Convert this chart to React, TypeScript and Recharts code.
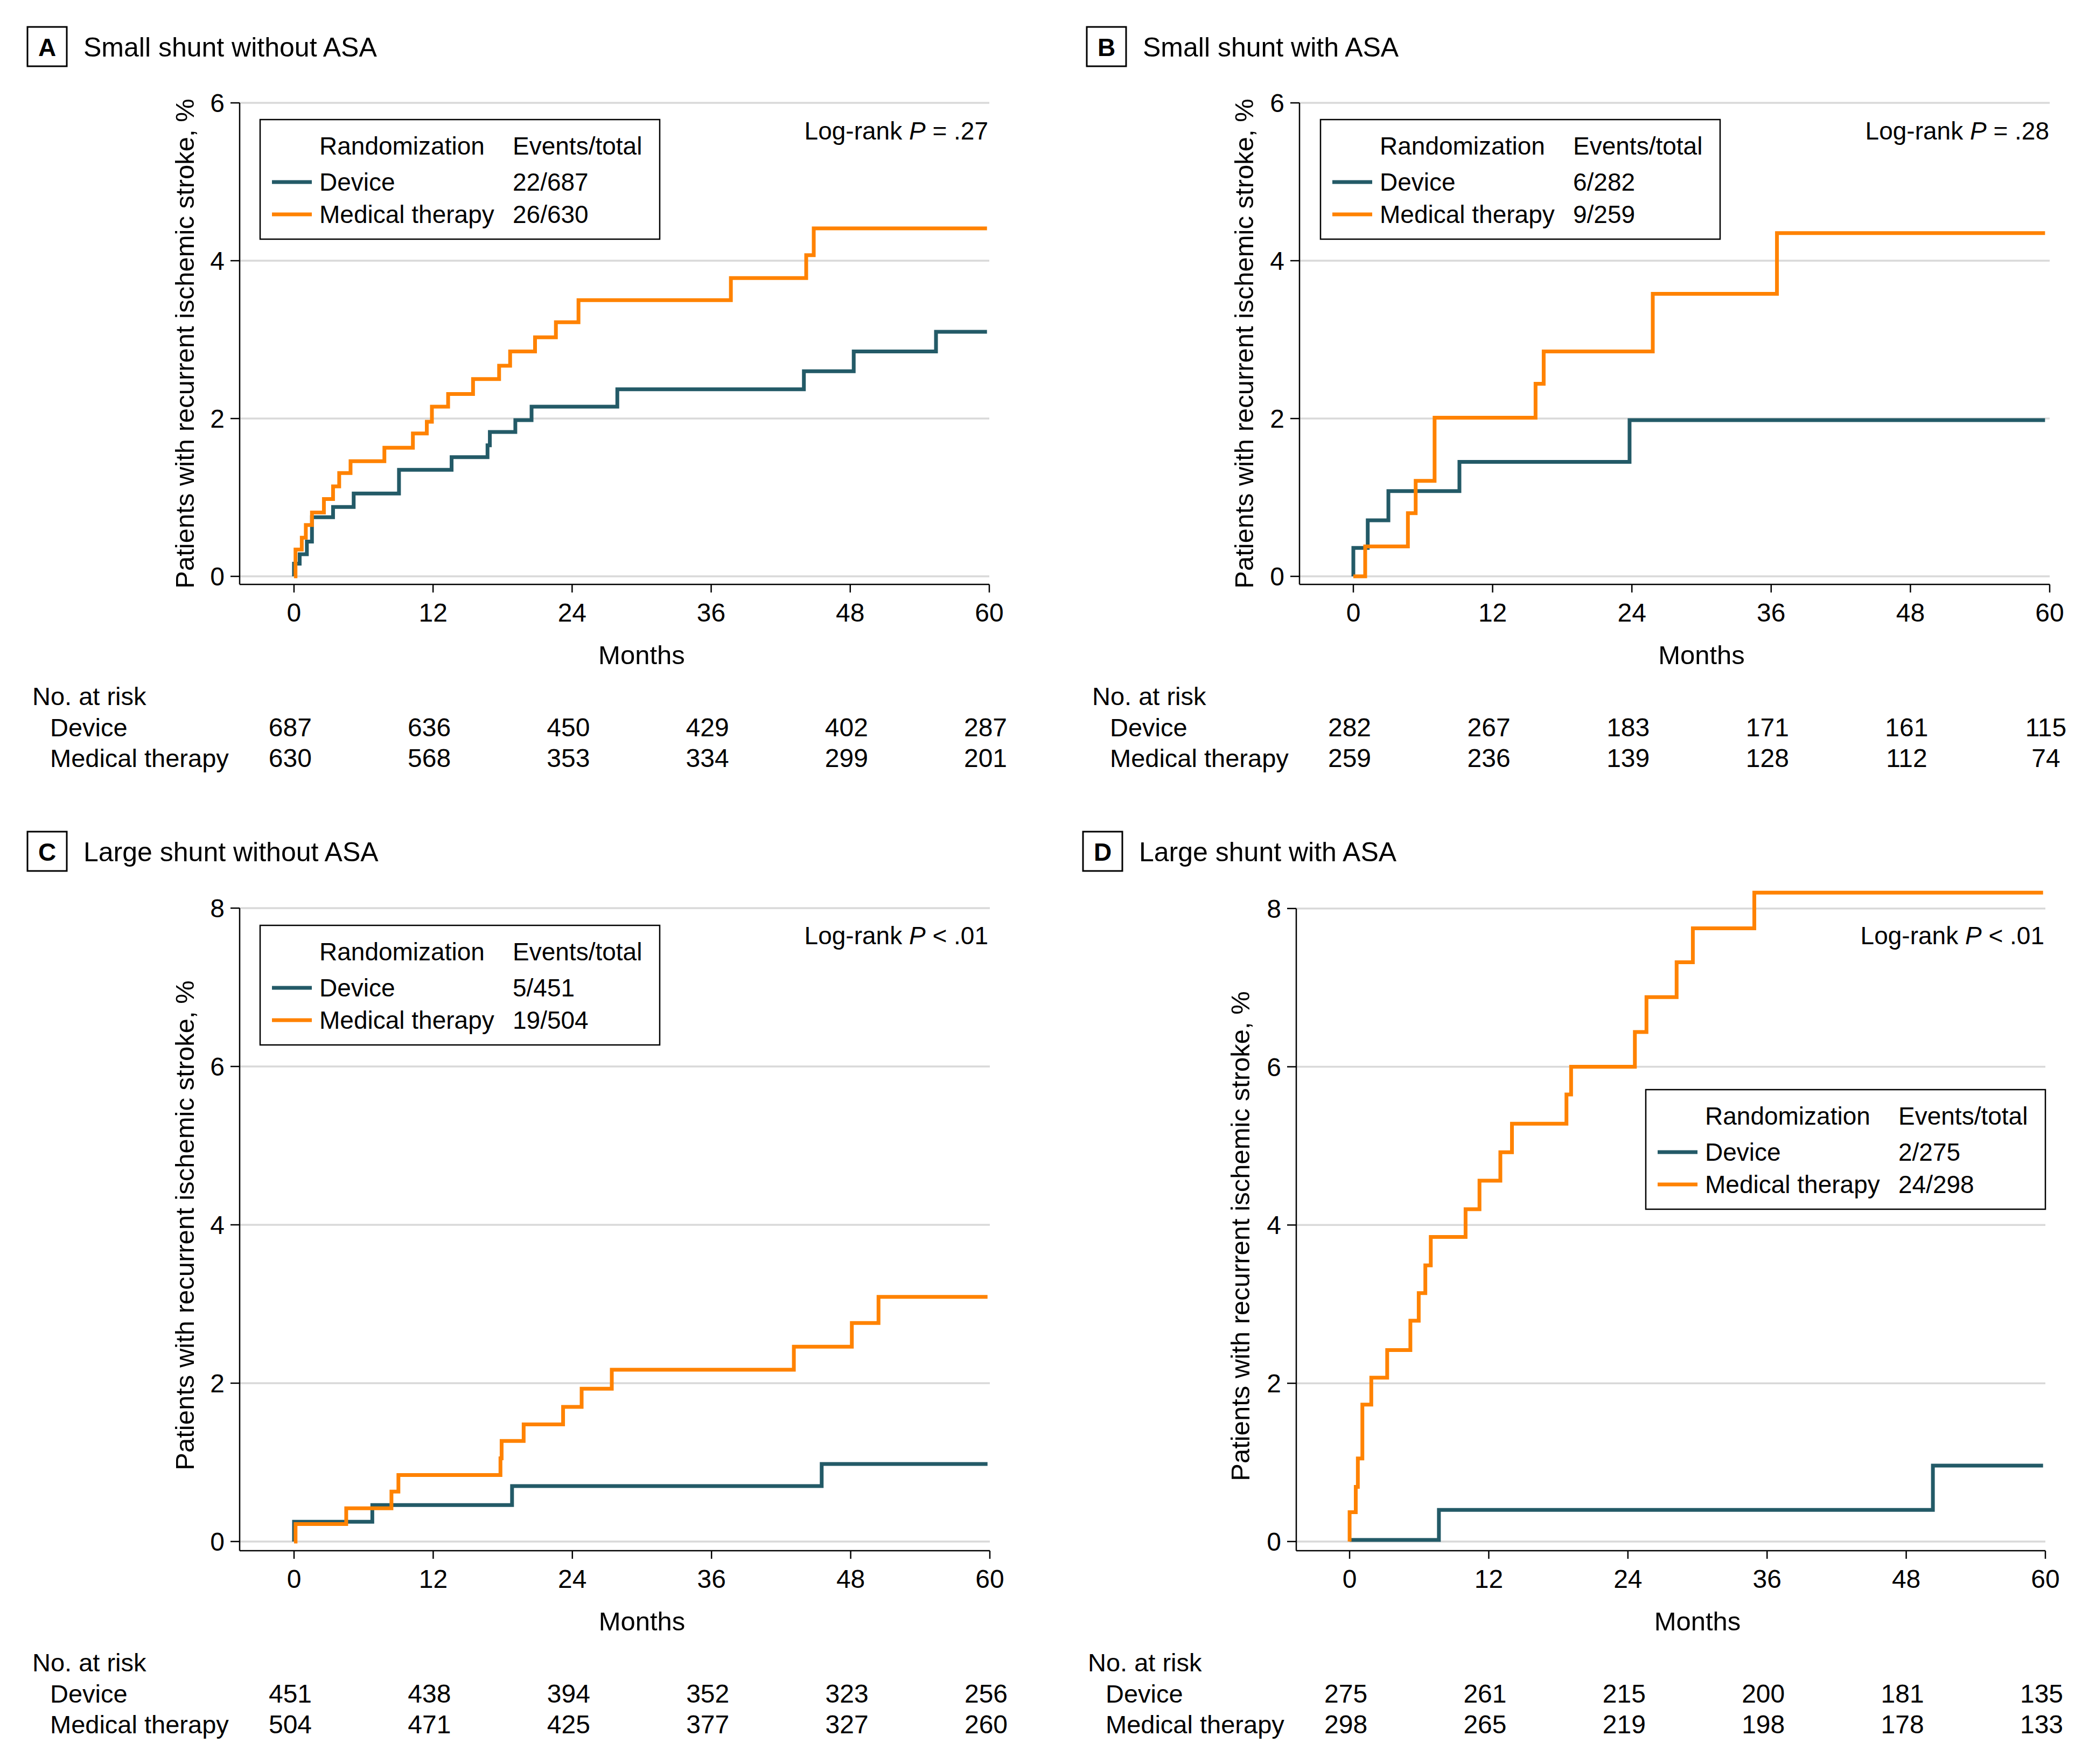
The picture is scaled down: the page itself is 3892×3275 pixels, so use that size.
import React from 'react';
import { LineChart, Line, XAxis, YAxis, CartesianGrid, ReferenceLine } from 'recharts';

const FONT = '"Liberation Sans", Arial, sans-serif';
const DEVICE_COLOR = '#235A67';
const MED_COLOR = '#FF8200';

const monthTicks = [0, 12, 24, 36, 48, 60];
const riskLabels = ['Device', 'Medical therapy'];

// A: small shunt without ASA
const aDeviceT = [0, 0, 0.49, 1.11, 1.55, 3.37, 5.15, 9.06, 13.6, 16.7, 16.9, 19.1, 20.5, 27.9, 44.0, 48.3, 55.4, 59.8];
const aDeviceV = [0, 0.16, 0.28, 0.44, 0.75, 0.88, 1.05, 1.35, 1.51, 1.66, 1.83, 1.98, 2.15, 2.37, 2.6, 2.85, 3.1, 3.1];
const aMedT = [0, 0.13, 0.67, 1.02, 1.55, 2.58, 3.37, 3.9, 4.88, 7.8, 10.26, 11.46, 11.9, 13.3, 15.45, 17.7, 18.65, 20.8, 22.6, 24.55, 37.7, 44.2, 44.85, 59.8];
const aMedV = [0, 0.34, 0.49, 0.65, 0.81, 0.98, 1.14, 1.31, 1.46, 1.63, 1.81, 1.96, 2.15, 2.31, 2.5, 2.67, 2.85, 3.03, 3.22, 3.5, 3.78, 4.07, 4.41, 4.41];
const aRiskDevice = [687, 636, 450, 429, 402, 287];
const aRiskMed = [630, 568, 353, 334, 299, 201];

// B: small shunt with ASA
const bDeviceT = [0, 0, 1.24, 3.02, 9.14, 23.8, 59.6];
const bDeviceV = [0, 0.36, 0.71, 1.08, 1.45, 1.98, 1.98];
const bMedT = [0, 1.02, 4.7, 5.37, 7.0, 15.7, 16.4, 25.8, 36.5, 59.6];
const bMedV = [0, 0.38, 0.8, 1.21, 2.01, 2.44, 2.85, 3.58, 4.35, 4.35];
const bRiskDevice = [282, 267, 183, 171, 161, 115];
const bRiskMed = [259, 236, 139, 128, 112, 74];

// C: large shunt without ASA
const cDeviceT = [0, 0, 6.75, 18.8, 45.5, 59.8];
const cDeviceV = [0, 0.25, 0.46, 0.7, 0.98, 0.98];
const cMedT = [0, 0.13, 4.5, 8.4, 9.0, 17.8, 17.9, 19.8, 23.2, 24.8, 27.4, 43.1, 48.1, 50.4, 59.8];
const cMedV = [0, 0.22, 0.42, 0.63, 0.84, 1.05, 1.27, 1.48, 1.7, 1.93, 2.17, 2.46, 2.76, 3.09, 3.09];
const cRiskDevice = [451, 438, 394, 352, 323, 256];
const cRiskMed = [504, 471, 425, 377, 327, 260];

// D: large shunt with ASA
const dDeviceT = [0, 7.7, 50.3, 59.8];
const dDeviceV = [0.02, 0.4, 0.96, 0.96];
const dMedT = [0, 0, 0.53, 0.71, 1.1, 1.87, 3.24, 5.24, 5.96, 6.53, 7.0, 10.0, 11.2, 13.0, 14.0, 18.7, 19.1, 24.6, 25.6, 28.2, 29.6, 34.9, 59.8];
const dMedV = [0, 0.37, 0.69, 1.05, 1.73, 2.07, 2.42, 2.79, 3.14, 3.49, 3.85, 4.2, 4.56, 4.92, 5.28, 5.65, 6.0, 6.44, 6.88, 7.32, 7.75, 8.2, 8.2];
const dRiskDevice = [275, 261, 215, 200, 181, 135];
const dRiskMed = [298, 265, 219, 198, 178, 133];

type Row = { t: number; v: number };
const rows = (t: number[], v: number[]): Row[] => t.map((x, i) => ({ t: x, v: v[i] }));

type Panel = {
  letter: string;
  title: string;
  L: number; R: number; T: number; B: number;
  xMin: number; yMin: number; yMax: number; yTicks: number[]; axisTop?: number;
  device: Row[]; medical: Row[];
  riskDevice: number[]; riskMed: number[];
  events: [string, string];
  pSign: string; pVal: string;
  box: [number, number];
  titleX: number; titleY: number;
  yLabel: [number, number];
  legend: [number, number];
  logRank: [number, number];
  riskX: number;
};

const panels: Panel[] = [
  {
    letter: 'A', title: 'Small shunt without ASA',
    L: 445, R: 1837, T: 191, B: 1085, xMin: -4.69, yMin: -0.102, yMax: 6, yTicks: [0, 2, 4, 6],
    device: rows(aDeviceT, aDeviceV), medical: rows(aMedT, aMedV),
    riskDevice: aRiskDevice, riskMed: aRiskMed, events: ['22/687', '26/630'],
    pSign: '=', pVal: '.27',
    box: [51, 50], titleX: 155, titleY: 105, yLabel: [343, 638],
    legend: [483, 222], logRank: [1835, 243], riskX: 60,
  },
  {
    letter: 'B', title: 'Small shunt with ASA',
    L: 2413, R: 3806, T: 191, B: 1085, xMin: -4.64, yMin: -0.102, yMax: 6, yTicks: [0, 2, 4, 6],
    device: rows(bDeviceT, bDeviceV), medical: rows(bMedT, bMedV),
    riskDevice: bRiskDevice, riskMed: bRiskMed, events: ['6/282', '9/259'],
    pSign: '=', pVal: '.28',
    box: [2018, 50], titleX: 2122, titleY: 105, yLabel: [2310, 638],
    legend: [2452, 222], logRank: [3805, 243], riskX: 2028,
  },
  {
    letter: 'C', title: 'Large shunt without ASA',
    L: 445, R: 1838, T: 1686, B: 2879, xMin: -4.69, yMin: -0.116, yMax: 8, yTicks: [0, 2, 4, 6, 8],
    device: rows(cDeviceT, cDeviceV), medical: rows(cMedT, cMedV),
    riskDevice: cRiskDevice, riskMed: cRiskMed, events: ['5/451', '19/504'],
    pSign: '<', pVal: '.01',
    box: [51, 1544], titleX: 155, titleY: 1599, yLabel: [343, 2275],
    legend: [483, 1718], logRank: [1835, 1737], riskX: 60,
  },
  {
    letter: 'D', title: 'Large shunt with ASA',
    L: 2407, R: 3798, T: 1650, B: 2879, xMin: -4.6, yMin: -0.116, yMax: 8.25, yTicks: [0, 2, 4, 6, 8], axisTop: 8,
    device: rows(dDeviceT, dDeviceV), medical: rows(dMedT, dMedV),
    riskDevice: dRiskDevice, riskMed: dRiskMed, events: ['2/275', '24/298'],
    pSign: '<', pVal: '.01',
    box: [2011, 1544], titleX: 2115, titleY: 1599, yLabel: [2303, 2295],
    legend: [3056, 2023], logRank: [3796, 1737], riskX: 2020,
  },
];

const PAD_L = 120;
const PAD_T = 40;
const PAD_R = 40;
const X_AXIS_H = 370;

const makeTick = (p: Panel) => (props: any) => {
  const { x, y, payload, index } = props;
  return (
    <g fontFamily={FONT} fill="#000">
      <text x={x} y={y + 37} textAnchor="middle" dominantBaseline="central" fontSize={48}>
        {payload.value}
      </text>
      <text x={x - 7} y={y + 250} textAnchor="middle" dominantBaseline="central" fontSize={48}>
        {p.riskDevice[index]}
      </text>
      <text x={x - 7} y={y + 307} textAnchor="middle" dominantBaseline="central" fontSize={48}>
        {p.riskMed[index]}
      </text>
    </g>
  );
};

const PanelChart = ({ p }: { p: Panel }) => {
  const width = p.R - p.L + PAD_L + PAD_R;
  const height = p.B - p.T + PAD_T + X_AXIS_H;
  return (
    <div style={{ position: 'absolute', left: p.L - PAD_L, top: p.T - PAD_T }}>
      <LineChart width={width} height={height} margin={{ top: PAD_T, right: PAD_R, left: 0, bottom: 0 }}>
        <CartesianGrid
          vertical={false}
          horizontalValues={p.yTicks}
          stroke="#d9d9d9"
          strokeWidth={3.5}
        />
        <XAxis
          type="number"
          dataKey="t"
          domain={[p.xMin, 60]}
          ticks={monthTicks}
          interval={0}
          height={X_AXIS_H}
          tickSize={15}
          tickMargin={0}
          axisLine={{ stroke: '#000', strokeWidth: 2.5 }}
          tickLine={{ stroke: '#000', strokeWidth: 2.5 }}
          tick={makeTick(p)}
        />
        <YAxis
          type="number"
          domain={[p.yMin, p.yMax]}
          ticks={p.yTicks}
          interval={0}
          width={PAD_L}
          tickSize={17}
          tickMargin={11}
          axisLine={p.axisTop ? false : { stroke: '#000', strokeWidth: 2.5 }}
          tickLine={{ stroke: '#000', strokeWidth: 2.5 }}
          tick={{ fontSize: 48, fill: '#000', fontFamily: FONT }}
        />
        {p.axisTop ? (
          <ReferenceLine
            segment={[{ x: p.xMin, y: p.yMin }, { x: p.xMin, y: p.axisTop }]}
            stroke="#000"
            strokeWidth={2.5}
            ifOverflow="visible"
          />
        ) : null}
        <Line
          data={p.device}
          dataKey="v"
          type="stepAfter"
          stroke={DEVICE_COLOR}
          strokeWidth={7}
          dot={false}
          isAnimationActive={false}
        />
        <Line
          data={p.medical}
          dataKey="v"
          type="stepAfter"
          stroke={MED_COLOR}
          strokeWidth={7}
          dot={false}
          isAnimationActive={false}
        />
      </LineChart>
    </div>
  );
};

const PanelText = ({ p }: { p: Panel }) => {
  const [bx, by] = p.box;
  const [lx, ly] = p.legend;
  const [yx, yy] = p.yLabel;
  const monthsX = p.L + ((30 - p.xMin) / (60 - p.xMin)) * (p.R - p.L);
  return (
    <g fontFamily={FONT} fill="#000">
      <rect x={bx} y={by} width={73} height={73} fill="none" stroke="#000" strokeWidth={3} />
      <text x={bx + 36.5} y={by + 38} textAnchor="middle" dominantBaseline="central" fontSize={46} fontWeight="bold">
        {p.letter}
      </text>
      <text x={p.titleX} y={p.titleY} fontSize={50}>{p.title}</text>
      <text
        x={yx}
        y={yy}
        transform={`rotate(-90 ${yx} ${yy})`}
        textAnchor="middle"
        dominantBaseline="central"
        fontSize={49}
      >
        Patients with recurrent ischemic stroke, %
      </text>
      <rect x={lx} y={ly} width={742} height={222} fill="#fff" stroke="#000" strokeWidth={2.5} />
      <g fontSize={46} dominantBaseline="central">
        <text x={lx + 110} y={ly + 49}>Randomization</text>
        <text x={lx + 469} y={ly + 49}>Events/total</text>
        <line x1={lx + 22} x2={lx + 96} y1={ly + 116} y2={ly + 116} stroke={DEVICE_COLOR} strokeWidth={7} />
        <text x={lx + 110} y={ly + 116}>Device</text>
        <text x={lx + 469} y={ly + 116}>{p.events[0]}</text>
        <line x1={lx + 22} x2={lx + 96} y1={ly + 176} y2={ly + 176} stroke={MED_COLOR} strokeWidth={7} />
        <text x={lx + 110} y={ly + 176}>Medical therapy</text>
        <text x={lx + 469} y={ly + 176}>{p.events[1]}</text>
      </g>
      <text x={p.logRank[0]} y={p.logRank[1]} textAnchor="end" dominantBaseline="central" fontSize={46}>
        Log-rank <tspan fontStyle="italic">P</tspan> {p.pSign} {p.pVal}
      </text>
      <text x={monthsX} y={p.B + 131} textAnchor="middle" dominantBaseline="central" fontSize={49}>
        Months
      </text>
      <g fontSize={47} dominantBaseline="central">
        <text x={p.riskX} y={p.B + 207}>No. at risk</text>
        <text x={p.riskX + 33} y={p.B + 265}>{riskLabels[0]}</text>
        <text x={p.riskX + 33} y={p.B + 322}>{riskLabels[1]}</text>
      </g>
    </g>
  );
};

export default function App() {
  return (
    <div style={{ position: 'absolute', left: 0, top: 0, width: 3892, height: 3275, background: '#fff', overflow: 'hidden' }}>
      {panels.map((p) => (
        <PanelChart key={p.letter} p={p} />
      ))}
      <svg
        width={3892}
        height={3275}
        style={{ position: 'absolute', left: 0, top: 0, pointerEvents: 'none' }}
      >
        {panels.map((p) => (
          <PanelText key={p.letter} p={p} />
        ))}
      </svg>
    </div>
  );
}
